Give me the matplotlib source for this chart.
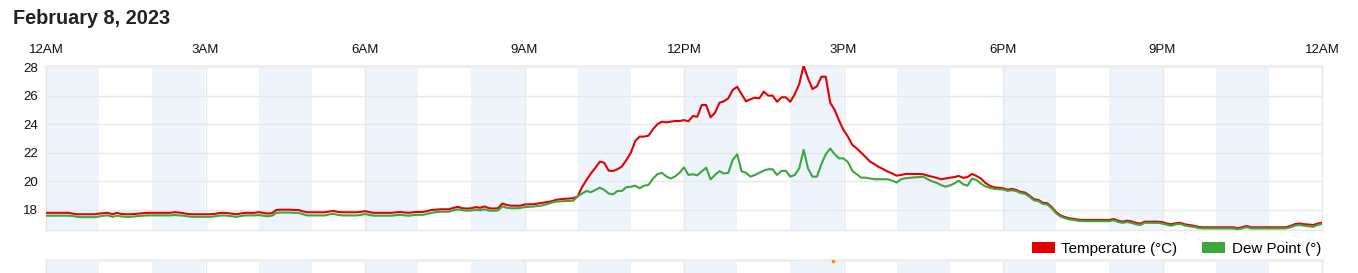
import numpy as np
import matplotlib
matplotlib.use("Agg")
import matplotlib.pyplot as plt
from matplotlib.patches import Patch

plt.rcParams['font.family'] = ['Liberation Sans', 'DejaVu Sans']

# readings every 5 minutes, one row per hour
temp_c = [
    17.8, 17.8, 17.8, 17.8, 17.8, 17.8, 17.75, 17.7, 17.7, 17.7, 17.7, 17.7,
    17.75, 17.78, 17.8, 17.7, 17.8, 17.72, 17.7, 17.7, 17.72, 17.75, 17.78, 17.8,
    17.8, 17.8, 17.8, 17.8, 17.8, 17.85, 17.82, 17.78, 17.72, 17.7, 17.7, 17.7,
    17.7, 17.7, 17.72, 17.78, 17.8, 17.78, 17.74, 17.7, 17.76, 17.8, 17.8, 17.8,
    17.85, 17.8, 17.75, 17.78, 18.0, 18.02, 18.02, 18.02, 18.0, 18.0, 17.9, 17.84,
    17.84, 17.84, 17.84, 17.84, 17.9, 17.92, 17.86, 17.84, 17.84, 17.84, 17.84, 17.86,
    17.92, 17.85, 17.8, 17.8, 17.8, 17.8, 17.8, 17.84, 17.86, 17.82, 17.8, 17.85,
    17.86, 17.86, 17.92, 18.0, 18.02, 18.05, 18.05, 18.05, 18.15, 18.22, 18.12, 18.1,
    18.12, 18.2, 18.15, 18.25, 18.12, 18.1, 18.12, 18.45, 18.35, 18.3, 18.3, 18.3,
    18.38, 18.4, 18.4, 18.45, 18.5, 18.55, 18.6, 18.7, 18.75, 18.78, 18.8, 18.82,
    18.95, 19.6, 20.1, 20.56, 20.95, 21.38, 21.3, 20.75, 20.73, 20.85, 21.05, 21.5,
    22.0, 22.83, 23.13, 23.13, 23.2, 23.65, 24.0, 24.17, 24.13, 24.18, 24.22, 24.22,
    24.29, 24.2, 24.57, 24.52, 25.34, 25.34, 24.48, 24.8, 25.5, 25.6, 25.81, 26.4,
    26.62, 26.1, 25.6, 25.75, 25.85, 25.81, 26.28, 26.0, 26.0, 25.57, 25.88, 25.88,
    25.57, 26.1, 26.8, 28.1, 27.2, 26.46, 26.65, 27.32, 27.32, 25.5, 25.0, 24.25,
    23.59, 23.13, 22.55, 22.3, 22.0, 21.7, 21.38, 21.2, 21.0, 20.85, 20.68, 20.55,
    20.4, 20.45, 20.52, 20.52, 20.52, 20.52, 20.5, 20.4, 20.33, 20.25, 20.15, 20.2,
    20.26, 20.3, 20.38, 20.25, 20.3, 20.52, 20.38, 20.2, 19.9, 19.7, 19.59, 19.55,
    19.52, 19.42, 19.47, 19.4, 19.26, 19.22, 19.0, 18.75, 18.7, 18.5, 18.47, 18.2,
    17.85, 17.62, 17.5, 17.42, 17.38, 17.32, 17.3, 17.3, 17.3, 17.3, 17.3, 17.3,
    17.3, 17.37, 17.25, 17.18, 17.25, 17.2, 17.1, 17.05, 17.18, 17.18, 17.18, 17.18,
    17.15, 17.05, 17.0, 17.08, 17.1, 17.0, 16.95, 16.9, 16.82, 16.79, 16.79, 16.79,
    16.79, 16.79, 16.79, 16.79, 16.79, 16.72, 16.8, 16.88, 16.79, 16.79, 16.79, 16.79,
    16.79, 16.79, 16.79, 16.79, 16.8, 16.9, 17.02, 17.05, 17.0, 16.98, 16.95, 17.05,
    17.12,
]

dew_point = [
    17.6, 17.6, 17.6, 17.6, 17.6, 17.6, 17.58, 17.52, 17.5, 17.5, 17.5, 17.5,
    17.55, 17.6, 17.62, 17.52, 17.6, 17.55, 17.52, 17.52, 17.55, 17.58, 17.6, 17.62,
    17.62, 17.62, 17.62, 17.62, 17.62, 17.65, 17.62, 17.6, 17.55, 17.52, 17.52, 17.52,
    17.52, 17.52, 17.55, 17.6, 17.62, 17.6, 17.56, 17.52, 17.58, 17.62, 17.62, 17.62,
    17.65, 17.6, 17.56, 17.6, 17.8, 17.82, 17.82, 17.82, 17.8, 17.8, 17.7, 17.62,
    17.62, 17.62, 17.62, 17.62, 17.7, 17.72, 17.65, 17.62, 17.62, 17.62, 17.62, 17.65,
    17.72, 17.65, 17.6, 17.6, 17.6, 17.6, 17.6, 17.64, 17.66, 17.62, 17.6, 17.65,
    17.66, 17.66, 17.72, 17.8, 17.85, 17.88, 17.88, 17.88, 17.98, 18.05, 17.98, 17.95,
    17.96, 18.02, 17.98, 18.05, 17.95, 17.95, 17.96, 18.25, 18.15, 18.12, 18.12, 18.14,
    18.2, 18.22, 18.24, 18.28, 18.32, 18.4, 18.5, 18.58, 18.6, 18.62, 18.63, 18.65,
    18.95, 19.15, 19.33, 19.24, 19.4, 19.56, 19.4, 19.15, 19.1, 19.33, 19.33, 19.6,
    19.62, 19.7, 19.52, 19.7, 19.75, 20.2, 20.5, 20.6, 20.35, 20.2, 20.35, 20.6,
    20.98, 20.45, 20.5, 20.42, 20.7, 20.96, 20.14, 20.45, 20.72, 20.55, 20.6, 21.5,
    21.9, 20.7, 20.6, 20.33, 20.45, 20.6, 20.75, 20.85, 20.85, 20.45, 20.73, 20.73,
    20.33, 20.45, 20.9, 22.2, 20.9, 20.33, 20.33, 21.2, 21.9, 22.3, 21.9, 21.61,
    21.61, 21.35, 20.73, 20.5, 20.26, 20.26, 20.2, 20.15, 20.15, 20.15, 20.15, 20.05,
    19.92, 20.15, 20.22, 20.25, 20.28, 20.3, 20.33, 20.15, 20.0, 19.9, 19.75, 19.63,
    19.72, 19.85, 20.05, 19.8, 19.7, 20.2, 20.1, 19.85, 19.65, 19.55, 19.48, 19.45,
    19.44, 19.34, 19.38, 19.32, 19.18, 19.13, 18.92, 18.67, 18.62, 18.42, 18.38, 18.12,
    17.76, 17.54, 17.42, 17.34, 17.3, 17.24, 17.22, 17.22, 17.22, 17.22, 17.22, 17.22,
    17.22, 17.28, 17.16, 17.1, 17.16, 17.1, 17.0, 16.95, 17.1, 17.1, 17.1, 17.1,
    17.05, 16.96, 16.9, 17.0, 17.02, 16.92, 16.86, 16.82, 16.74, 16.71, 16.71, 16.71,
    16.71, 16.71, 16.71, 16.71, 16.71, 16.64, 16.72, 16.8, 16.71, 16.71, 16.71, 16.71,
    16.71, 16.71, 16.71, 16.71, 16.72, 16.8, 16.92, 16.95, 16.9, 16.86, 16.82, 16.95,
    17.02,
]

hours = np.arange(len(temp_c)) / 12.0

x_ticks = [0, 3, 6, 9, 12, 15, 18, 21, 24]
x_labels = ["12AM", "3AM", "6AM", "9AM", "12PM", "3PM", "6PM", "9PM", "12AM"]
y_ticks = [18, 20, 22, 24, 26, 28]

precip_hours = [14.8]

RED = "#e50000"
GREEN = "#3ca73c"
BAND = "#edf4fb"
GRID = "#e8e8e8"

W, H = 1358, 273
fig = plt.figure(figsize=(W / 100, H / 100), dpi=100)

L = 46 / W
R = 1322 / W
ax = fig.add_axes([L, 1 - 230 / H, R - L, (230 - 66) / H])


def shade_hours(a):
    for h in range(0, 24, 2):
        a.axvspan(h, h + 1, color=BAND, lw=0, zorder=0)
    for h in x_ticks[1:-1]:
        a.axvline(h, color="#e9e9e9", lw=1.0, zorder=0.5)


shade_hours(ax)
for y in y_ticks:
    ax.axhline(y, color=GRID, lw=1.0, zorder=0.6)

ax.plot(hours, temp_c, color=RED, lw=1.5, zorder=3, solid_joinstyle="round")
ax.plot(hours, dew_point, color=GREEN, lw=1.5, zorder=3.1, solid_joinstyle="round")

ax.set_xlim(0, 24)
ax.set_ylim(16.6, 28.07)
ax.xaxis.tick_top()
ax.set_xticks(x_ticks)
ax.set_xticklabels(x_labels)
ax.set_yticks(y_ticks)
ax.tick_params(axis="x", length=0, pad=7, labelsize=9.5, colors="#111111")
ax.tick_params(axis="y", length=0, pad=6, labelsize=9.5, colors="#111111")

for side in ["left", "right", "bottom"]:
    ax.spines[side].set_color("#e6e6e6")
    ax.spines[side].set_linewidth(1.0)
ax.spines["top"].set_color("#eeeeee")
ax.spines["top"].set_linewidth(2.2)

# second panel, mostly cut off at the bottom
ax2 = fig.add_axes([L, -0.3, R - L, 0.3 + 1 - 260 / H])
shade_hours(ax2)
ax2.plot(precip_hours, [0.985] * len(precip_hours), "o", color="#ff8c00",
         ms=2.6, mec="none", zorder=3, clip_on=False)
ax2.set_xlim(0, 24)
ax2.set_ylim(0, 1)
ax2.set_xticks([])
ax2.set_yticks([])
for side in ["left", "right", "bottom"]:
    ax2.spines[side].set_color("#e6e6e6")
    ax2.spines[side].set_linewidth(1.0)
ax2.spines["top"].set_color("#eeeeee")
ax2.spines["top"].set_linewidth(2.2)

fig.text(13 / W, 1 - 18 / H, "February 8, 2023", fontsize=14.3,
         fontweight="bold", va="center", ha="left", color="#222222")

handles = [Patch(facecolor=RED, edgecolor="none"),
           Patch(facecolor=GREEN, edgecolor="none")]
fig.legend(handles, ["Temperature (°C)", "Dew Point (°)"], ncol=2,
           loc="center right", bbox_to_anchor=(1321 / W, 1 - 249 / H),
           frameon=False, fontsize=10.9, handlelength=1.55, handleheight=0.75,
           handletextpad=0.42, columnspacing=1.6, borderpad=0, borderaxespad=0)

fig.savefig("out.png", dpi=100)
